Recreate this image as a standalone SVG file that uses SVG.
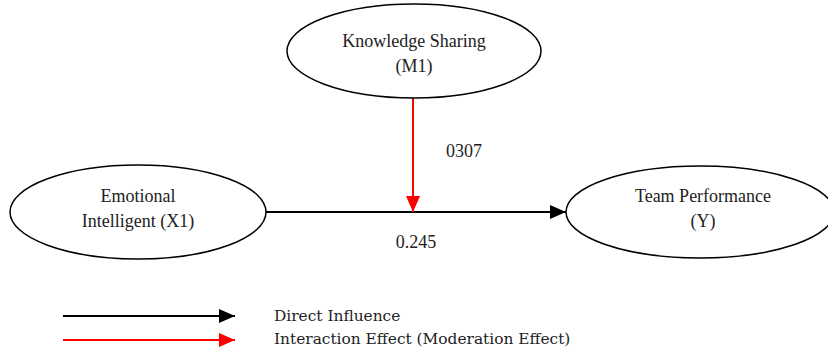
<svg xmlns="http://www.w3.org/2000/svg" width="828" height="349" viewBox="0 0 828 349">
<style>
.n{fill:#fff;stroke:#000;stroke-width:1.5}
.t{font-family:"Liberation Serif",serif;font-size:18px;fill:#222;text-anchor:middle}
.l{font-family:"DejaVu Serif","Liberation Serif",serif;font-size:15.4px;fill:#222}
</style>
<defs>
<marker id="abig" viewBox="0 0 10 10" refX="10" refY="5" markerWidth="16" markerHeight="14" orient="auto" markerUnits="userSpaceOnUse" preserveAspectRatio="none"><path d="M0,0 L10,5 L0,10 z" fill="#000"/></marker>
<marker id="arbig" viewBox="0 0 10 10" refX="10" refY="5" markerWidth="16" markerHeight="14" orient="auto" markerUnits="userSpaceOnUse" preserveAspectRatio="none"><path d="M0,0 L10,5 L0,10 z" fill="#f00"/></marker>
</defs>
<g id="edges">
<line x1="265" y1="212" x2="566" y2="212" stroke="#000" stroke-width="2" marker-end="url(#abig)"/>
<line x1="413" y1="98" x2="413" y2="212" stroke="#f00" stroke-width="2" marker-end="url(#arbig)"/>
<text class="t" x="464" y="157">0307</text>
<text class="t" x="416" y="248">0.245</text>
</g>
<g id="m1"><ellipse class="n" cx="414" cy="51" rx="127" ry="47"/><text class="t" x="414" y="47">Knowledge Sharing</text><text class="t" x="414" y="72">(M1)</text></g>
<g id="x1"><ellipse class="n" cx="138" cy="212" rx="128" ry="47"/><text class="t" x="138" y="202">Emotional</text><text class="t" x="138" y="227">Intelligent (X1)</text></g>
<g id="y"><ellipse class="n" cx="700" cy="212" rx="134" ry="46"/><text class="t" x="703" y="202">Team Performance</text><text class="t" x="703" y="227">(Y)</text></g>
<g id="legend">
<line x1="63" y1="316" x2="235" y2="316" stroke="#000" stroke-width="2" marker-end="url(#abig)"/>
<line x1="63" y1="340" x2="235" y2="340" stroke="#f00" stroke-width="2" marker-end="url(#arbig)"/>
<text class="l" x="274" y="321">Direct Influence</text>
<text class="l" x="274" y="344">Interaction Effect (Moderation Effect)</text>
</g>
</svg>
